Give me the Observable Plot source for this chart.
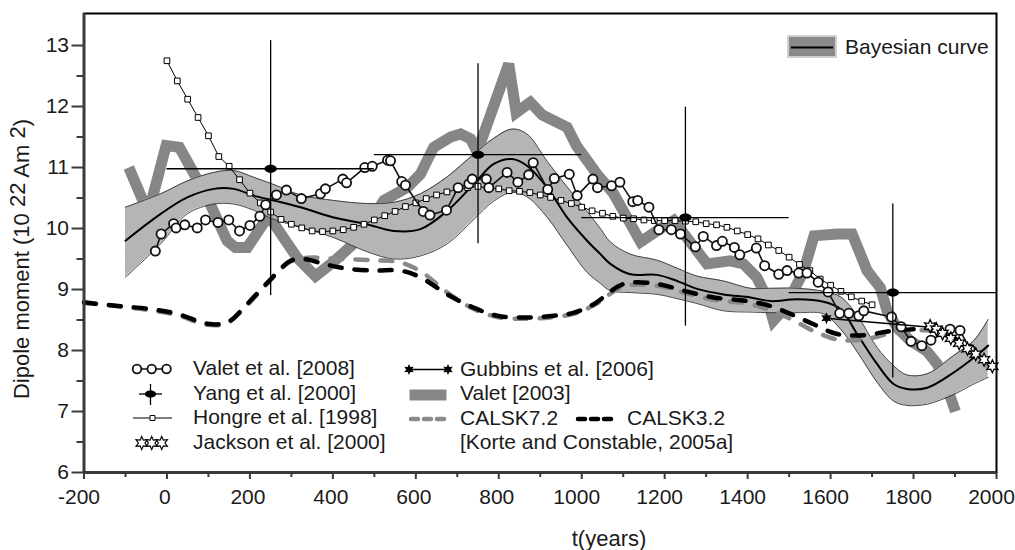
<!DOCTYPE html>
<html><head><meta charset="utf-8">
<script src="https://cdn.jsdelivr.net/npm/d3@7"></script>
<script src="https://cdn.jsdelivr.net/npm/@observablehq/plot@0.6"></script>
<style>
html,body{margin:0;padding:0;background:#fff;}
#chart{width:1015px;height:550px;}
</style></head><body><div id="chart"></div>
<script>
const FONT = '"Liberation Sans", Arial, Helvetica, sans-serif';

// Valet et al. [2008] (year, dipole moment)
const valet2008 = [[-28,9.63],[-14,9.91],[16,10.08],[22,10.01],[43,10.06],[73,10.01],[93,10.14],[123,10.10],[149,10.14],[175,9.96],[200,10.05],[224,10.20],[238,10.39],[264,10.55],[288,10.63],[324,10.49],[370,10.57],[382,10.65],[424,10.81],[433,10.75],[477,11.00],[495,11.02],[532,11.12],[539,11.11],[566,10.77],[575,10.71],[618,10.28],[634,10.22],[674,10.30],[702,10.67],[728,10.73],[736,10.81],[770,10.81],[776,10.67],[820,10.92],[846,10.76],[872,10.88],[883,11.08],[918,10.64],[934,10.82],[970,10.89],[989,10.54],[1027,10.81],[1038,10.67],[1072,10.70],[1092,10.76],[1123,10.44],[1135,10.46],[1162,10.35],[1186,9.98],[1216,9.98],[1238,9.91],[1274,9.70],[1293,9.87],[1325,9.72],[1339,9.79],[1368,9.69],[1381,9.57],[1421,9.68],[1441,9.39],[1475,9.25],[1495,9.31],[1523,9.27],[1543,9.27],[1570,9.12],[1594,8.96],[1622,8.61],[1644,8.61],[1668,8.57],[1680,8.65],[1747,8.55],[1770,8.39],[1794,8.15],[1820,8.08],[1842,8.17],[1888,8.35],[1912,8.33],[1936,8.02]];

// Yang et al. [2000]: year, value, year from, year to, value low, value high
const yang2000 = [
  [250, 10.98, 0, 500, 8.90, 13.08],
  [750, 11.21, 500, 1000, 9.75, 12.70],
  [1250, 10.18, 1000, 1500, 8.40, 11.99],
  [1750, 8.95, 1500, 2000, 7.55, 10.40]
];

// Hongre et al. [1998]
const hongre = [[0,12.75],[25,12.42],[50,12.12],[75,11.82],[100,11.52],[125,11.18],[150,11.02],[175,10.80],[200,10.58],[225,10.42],[250,10.27],[275,10.15],[300,10.07],[325,10.01],[350,9.96],[375,9.95],[400,9.96],[425,9.98],[450,10.02],[475,10.07],[500,10.14],[525,10.21],[550,10.28],[575,10.36],[600,10.42],[625,10.49],[650,10.55],[675,10.60],[700,10.64],[725,10.67],[750,10.69],[775,10.66],[800,10.65],[825,10.62],[850,10.61],[875,10.59],[900,10.55],[925,10.51],[950,10.46],[975,10.41],[1000,10.35],[1025,10.29],[1050,10.25],[1075,10.20],[1100,10.17],[1125,10.16],[1150,10.14],[1175,10.13],[1200,10.13],[1225,10.13],[1250,10.12],[1275,10.11],[1300,10.08],[1325,10.06],[1350,10.02],[1375,9.96],[1400,9.90],[1425,9.83],[1450,9.73],[1475,9.64],[1500,9.53],[1525,9.41],[1550,9.31],[1575,9.17],[1600,9.07],[1625,8.97],[1650,8.88],[1675,8.81],[1700,8.75]];

// Jackson et al. [2000]
const jackson = [[1840,8.40],[1855,8.35],[1870,8.28],[1890,8.20],[1910,8.12],[1930,8.03],[1950,7.94],[1970,7.85],[1990,7.74]];

// Gubbins et al. [2006]
const gubbins = [[1590,8.53],[1840,8.38]];

// Valet [2003]
const valet2003 = [[-92,11.00],[-45,10.25],[-2,11.36],[30,11.33],[57,11.00],[97,10.51],[145,9.80],[165,9.69],[194,9.69],[245,10.21],[314,9.52],[358,9.22],[401,9.45],[458,9.80],[523,10.46],[579,10.67],[611,10.89],[643,11.33],[684,11.50],[708,11.55],[732,11.47],[748,11.25],[824,12.70],[842,11.90],[876,12.07],[905,11.86],[965,11.66],[987,11.36],[1037,10.89],[1077,10.57],[1142,9.78],[1190,10.00],[1222,10.13],[1302,9.42],[1358,9.47],[1390,9.42],[1422,9.20],[1446,8.87],[1462,8.49],[1490,8.70],[1535,9.30],[1560,9.88],[1616,9.91],[1652,9.91],[1688,9.31],[1720,9.03],[1736,8.65],[1760,8.38],[1792,8.16],[1832,7.99],[1857,7.78],[1881,7.39],[1901,7.00]];

// CALSK7.2 and CALSK3.2 [Korte and Constable, 2005a]
const calsk72 = [[-200,8.78],[-120,8.73],[-40,8.66],[25,8.58],[97,8.42],[145,8.45],[193,8.74],[242,9.10],[298,9.46],[340,9.52],[420,9.50],[500,9.48],[560,9.45],[611,9.30],[676,8.95],[740,8.68],[796,8.55],[868,8.52],[933,8.55],[981,8.60],[1029,8.74],[1101,9.05],[1182,9.06],[1246,8.95],[1318,8.83],[1399,8.77],[1455,8.66],[1503,8.52],[1559,8.32],[1616,8.18],[1680,8.18],[1744,8.28],[1800,8.32],[1850,8.32],[1913,8.10],[1985,7.72]];
const calsk32 = [[-200,8.79],[-120,8.73],[-40,8.68],[25,8.60],[97,8.44],[145,8.46],[193,8.76],[242,9.11],[298,9.47],[330,9.50],[378,9.42],[426,9.35],[499,9.31],[563,9.31],[611,9.20],[676,8.92],[740,8.70],[796,8.57],[868,8.54],[933,8.57],[981,8.62],[1029,8.76],[1101,9.09],[1182,9.09],[1246,8.98],[1318,8.87],[1399,8.81],[1455,8.73],[1503,8.60],[1559,8.43],[1616,8.27],[1680,8.25],[1744,8.32],[1800,8.35],[1850,8.36],[1913,8.14],[1985,7.75]];

// Bayesian curve: year, mean, lower, upper
const bayes = [[-100,9.80,9.20,10.35],[-15,10.24,9.75,10.57],[49,10.51,10.24,10.78],[113,10.65,10.40,10.92],[161,10.65,10.40,10.95],[209,10.54,10.30,10.84],[258,10.46,10.15,10.72],[322,10.35,10.02,10.55],[402,10.18,9.85,10.46],[482,10.07,9.62,10.41],[547,9.96,9.50,10.43],[611,9.99,9.55,10.57],[676,10.29,9.75,10.85],[740,10.73,10.15,11.22],[788,11.06,10.45,11.48],[832,11.14,10.59,11.63],[868,11.03,10.52,11.55],[917,10.67,10.18,11.10],[965,10.18,9.72,10.68],[1013,9.80,9.28,10.28],[1045,9.58,9.10,10.00],[1069,9.42,8.98,9.78],[1117,9.25,8.95,9.58],[1182,9.24,8.92,9.48],[1230,9.14,8.85,9.35],[1278,9.01,8.77,9.22],[1342,8.92,8.65,9.14],[1407,8.87,8.63,9.02],[1455,8.81,8.62,9.02],[1519,8.84,8.62,9.02],[1583,8.80,8.60,8.97],[1624,8.68,8.35,8.88],[1664,8.27,7.98,8.58],[1712,7.78,7.48,8.05],[1752,7.45,7.17,7.75],[1784,7.37,7.10,7.60],[1833,7.39,7.12,7.62],[1897,7.64,7.28,7.92],[1945,7.88,7.45,8.16],[1980,8.08,7.56,8.51]];

const yMajor = [6,7,8,9,10,11,12,13];
const yMinor = [6.5,7.5,8.5,9.5,10.5,11.5,12.5];
const xMajor = [-200,0,200,400,600,800,1000,1200,1400,1600,1800,2000];
const xLabelsShort = [0,200,400,600,800];
const xLabelsLong = [-200,1000,1200,1400,1600,1800,2000];
const xMinor = [-100,100,300,500,700,900,1100,1300,1500,1700,1900];

// custom symbols
const star6 = {draw(ctx, size) {
  const R = Math.sqrt(size / Math.PI), r = R * 0.5;
  for (let i = 0; i < 12; i++) {
    const a = -Math.PI / 2 + i * Math.PI / 6, rr = i % 2 ? r : R;
    const px = rr * Math.cos(a), py = rr * Math.sin(a);
    if (i === 0) ctx.moveTo(px, py); else ctx.lineTo(px, py);
  }
  ctx.closePath();
}};
const ellipse = {draw(ctx, size) {
  const R = Math.sqrt(size / Math.PI), rx = R * 1.25, ry = R * 0.8, k = 0.5523;
  ctx.moveTo(rx, 0);
  ctx.bezierCurveTo(rx, ry * k, rx * k, ry, 0, ry);
  ctx.bezierCurveTo(-rx * k, ry, -rx, ry * k, -rx, 0);
  ctx.bezierCurveTo(-rx, -ry * k, -rx * k, -ry, 0, -ry);
  ctx.bezierCurveTo(rx * k, -ry, rx, -ry * k, rx, 0);
  ctx.closePath();
}};

const X = d => d[0], Y = d => d[1];

const svg = Plot.plot({
  width: 1015, height: 550,
  marginLeft: 83.5, marginRight: 19, marginTop: 13, marginBottom: 78,
  x: {domain: [-200, 2000]},
  y: {domain: [6, 13.525]},
  style: {fontFamily: FONT, fontSize: "21px", color: "#1a1a1a", background: "white"},
  marks: [
    Plot.line(valet2003, {x: X, y: Y, stroke: "#868686", strokeWidth: 11, strokeLinejoin: "miter", strokeMiterlimit: 4, strokeLinecap: "butt"}),
    Plot.areaY(bayes, {x: X, y1: d => d[2], y2: d => d[3], fill: "#b5b5b5", curve: "catmull-rom"}),
    Plot.line(bayes, {x: X, y: d => d[2], stroke: "#333", strokeWidth: 0.9, curve: "catmull-rom"}),
    Plot.line(bayes, {x: X, y: d => d[3], stroke: "#333", strokeWidth: 0.9, curve: "catmull-rom"}),
    Plot.line(bayes, {x: X, y: Y, stroke: "black", strokeWidth: 2, curve: "catmull-rom"}),
    Plot.line(calsk72, {x: X, y: Y, stroke: "#8a8a8a", strokeWidth: 4.5, strokeDasharray: "12,13", strokeLinecap: "round", curve: "catmull-rom"}),
    Plot.line(calsk32, {x: X, y: Y, stroke: "black", strokeWidth: 4.5, strokeDasharray: "12,13", strokeLinecap: "round", curve: "catmull-rom"}),
    Plot.line(hongre, {x: X, y: Y, stroke: "black", strokeWidth: 1}),
    Plot.dot(hongre, {x: X, y: Y, symbol: "square", r: 3.2, fill: "white", stroke: "black", strokeWidth: 1}),
    Plot.line(valet2008, {x: X, y: Y, stroke: "#111", strokeWidth: 1.6}),
    Plot.dot(valet2008, {x: X, y: Y, r: 4.6, fill: "white", stroke: "#111", strokeWidth: 1.8}),
    Plot.line(gubbins, {x: X, y: Y, stroke: "black", strokeWidth: 1.5}),
    Plot.dot(gubbins, {x: X, y: Y, symbol: star6, r: 6, fill: "black"}),
    Plot.dot(jackson, {x: X, y: Y, symbol: star6, r: 6.5, fill: "white", stroke: "black", strokeWidth: 1.2}),
    Plot.ruleY(yang2000, {y: Y, x1: d => d[2], x2: d => d[3], stroke: "black", strokeWidth: 1.3}),
    Plot.ruleX(yang2000, {x: X, y1: d => d[4], y2: d => d[5], stroke: "black", strokeWidth: 1.3}),
    Plot.dot(yang2000, {x: X, y: Y, symbol: ellipse, r: 5, fill: "black"}),
    Plot.frame({stroke: "black", strokeWidth: 2}),
    Plot.ruleX([-200], {stroke: "#3a3a3a", strokeWidth: 3}),
    Plot.ruleY([6], {stroke: "#3a3a3a", strokeWidth: 3}),
    Plot.axisY({ticks: yMajor, tickSize: 12, tickPadding: 3, tickFormat: d => String(d), fontSize: 21, label: null, strokeWidth: 2, stroke: "#3a3a3a"}),
    Plot.axisY({ticks: yMinor, tickSize: 7, tickFormat: () => "", label: null, strokeWidth: 2, stroke: "#3a3a3a"}),
    Plot.axisX({ticks: xMajor, tickSize: 7, tickFormat: () => "", label: null, strokeWidth: 2, stroke: "#3a3a3a"}),
    Plot.axisX({ticks: xMinor, tickSize: 5, tickFormat: () => "", label: null, strokeWidth: 2, stroke: "#3a3a3a"}),
    Plot.axisX({ticks: xLabelsShort, tickSize: 0, tickPadding: 17, tickFormat: d => String(d), fontSize: 21, label: null, stroke: "none", dx: -2}),
    Plot.axisX({ticks: xLabelsLong, tickSize: 0, tickPadding: 17, tickFormat: d => String(d), fontSize: 21, label: null, stroke: "none", dx: -5})
  ]
});
document.getElementById("chart").appendChild(svg);

// axis titles
const s = d3.select(svg);
const yl = s.append("text").attr("transform", "translate(29,259) rotate(-90)")
  .attr("text-anchor", "middle").attr("font-family", FONT).attr("font-size", 22).attr("fill", "#1a1a1a");
yl.append("tspan").text("Dipole moment (10 ");
yl.append("tspan").attr("dy", -4).text("22");
yl.append("tspan").attr("dy", 4).text(" Am ");
yl.append("tspan").attr("dy", -4).text("2");
yl.append("tspan").attr("dy", 4).text(")");
s.append("text").attr("x", 609).attr("y", 546).attr("text-anchor", "middle")
  .attr("font-family", FONT).attr("font-size", 22).attr("fill", "#1a1a1a").text("t(years)");

// legend
const lg = s.append("g").attr("font-family", FONT).attr("font-size", 21).attr("fill", "#1a1a1a").attr("text-anchor", "start");
const sym = (type, r) => d3.symbol(type, Math.PI * r * r)();
// Bayesian curve
lg.append("rect").attr("x", 788).attr("y", 36).attr("width", 48).attr("height", 21)
  .attr("fill", "#8a8a8a").attr("stroke", "#cfcfcf").attr("stroke-width", 2);
lg.append("line").attr("x1", 791).attr("x2", 833).attr("y1", 47.5).attr("y2", 47.5).attr("stroke", "black").attr("stroke-width", 2);
lg.append("text").attr("x", 845).attr("y", 54).text("Bayesian curve");
// left column
lg.append("line").attr("x1", 134).attr("x2", 169).attr("y1", 369).attr("y2", 369).attr("stroke", "#111").attr("stroke-width", 1.6);
[137, 151.7, 166.5].forEach(cx => lg.append("circle").attr("cx", cx).attr("cy", 369).attr("r", 4.3).attr("fill", "white").attr("stroke", "#111").attr("stroke-width", 1.8));
lg.append("text").attr("x", 193).attr("y", 375).text("Valet et al. [2008]");
lg.append("line").attr("x1", 139).attr("x2", 162).attr("y1", 394).attr("y2", 394).attr("stroke", "black").attr("stroke-width", 1.3);
lg.append("line").attr("x1", 150.5).attr("x2", 150.5).attr("y1", 384).attr("y2", 405).attr("stroke", "black").attr("stroke-width", 1.3);
lg.append("path").attr("transform", "translate(150.5,394)").attr("d", sym(ellipse, 4.5)).attr("fill", "black");
lg.append("text").attr("x", 193).attr("y", 399.5).text("Yang et al. [2000]");
lg.append("line").attr("x1", 133).attr("x2", 172).attr("y1", 418).attr("y2", 418).attr("stroke", "black").attr("stroke-width", 1);
lg.append("path").attr("transform", "translate(152.5,418)").attr("d", sym(d3.symbolSquare, 2.8)).attr("fill", "white").attr("stroke", "black").attr("stroke-width", 1);
lg.append("text").attr("x", 193).attr("y", 424).text("Hongre et al. [1998]");
[141.7, 151.7, 161.7].forEach(cx => lg.append("path").attr("transform", `translate(${cx},443)`).attr("d", sym(star6, 6.5)).attr("fill", "white").attr("stroke", "black").attr("stroke-width", 1.2));
lg.append("text").attr("x", 193).attr("y", 448.5).text("Jackson et al. [2000]");
// right column
lg.append("line").attr("x1", 409).attr("x2", 448).attr("y1", 369.5).attr("y2", 369.5).attr("stroke", "black").attr("stroke-width", 1.5);
[409, 448].forEach(cx => lg.append("path").attr("transform", `translate(${cx},369.5)`).attr("d", sym(star6, 5.5)).attr("fill", "black"));
lg.append("text").attr("x", 460).attr("y", 376).text("Gubbins et al. [2006]");
lg.append("rect").attr("x", 409.5).attr("y", 389.5).attr("width", 37).attr("height", 11).attr("fill", "#868686");
lg.append("text").attr("x", 460).attr("y", 400).text("Valet [2003]");
lg.append("line").attr("x1", 411).attr("x2", 449).attr("y1", 419).attr("y2", 419).attr("stroke", "#8a8a8a").attr("stroke-width", 4.5).attr("stroke-linecap", "round").attr("stroke-dasharray", "7,6");
lg.append("text").attr("x", 460).attr("y", 425).text("CALSK7.2");
lg.append("line").attr("x1", 578).attr("x2", 616).attr("y1", 419).attr("y2", 419).attr("stroke", "black").attr("stroke-width", 4.5).attr("stroke-linecap", "round").attr("stroke-dasharray", "7,6");
lg.append("text").attr("x", 627).attr("y", 425).text("CALSK3.2");
lg.append("text").attr("x", 460).attr("y", 448.5).text("[Korte and Constable, 2005a]");
</script>
</body></html>
